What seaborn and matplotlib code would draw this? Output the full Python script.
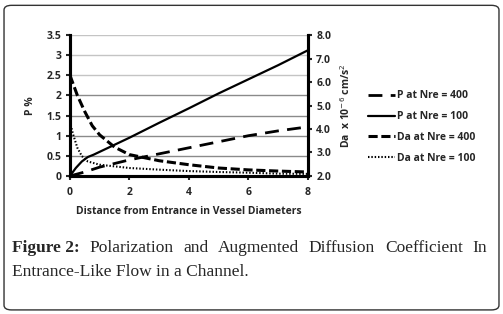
import matplotlib
matplotlib.use("Agg")
import matplotlib.pyplot as plt
import seaborn as sns
from matplotlib.patches import FancyBboxPatch

# -----------------------------
# data
# -----------------------------
x_p100 = [0, 0.1, 0.2, 0.4, 0.6, 0.8, 1, 2, 3, 4, 5, 6, 7, 8]
p_100 = [0, 0.1, 0.2, 0.36, 0.47, 0.53, 0.6, 0.95, 1.32, 1.68, 2.05, 2.4, 2.75, 3.12]

x_p400 = [0, 0.5, 1, 2, 3, 4, 5, 6, 7, 8]
p_400 = [0, 0.1, 0.22, 0.4, 0.55, 0.7, 0.85, 1.0, 1.12, 1.22]

x_da400 = [0, 0.25, 0.5, 0.75, 1, 1.5, 2, 3, 4, 5, 6, 7, 8]
da_400 = [6.29, 5.43, 4.74, 4.14, 3.75, 3.23, 2.91, 2.65, 2.48, 2.34, 2.26, 2.21, 2.17]

x_da100 = [0, 0.1, 0.25, 0.4, 0.6, 1, 2, 3, 4, 5, 6, 7, 8]
da_100 = [4.31, 3.8, 3.2, 2.85, 2.62, 2.48, 2.34, 2.27, 2.21, 2.17, 2.14, 2.1, 2.09]

x_ticks = [0, 2, 4, 6, 8]
left_ticks = [0, 0.5, 1, 1.5, 2, 2.5, 3, 3.5]
left_labels = ["0", "0.5", "1", "1.5", "2", "2.5", "3", "3.5"]
right_ticks = [2, 3, 4, 5, 6, 7, 8]
right_labels = ["2.0", "3.0", "4.0", "5.0", "6.0", "7.0", "8.0"]

caption_line1 = ["Polarization", "and", "Augmented", "Diffusion", "Coefficient", "In"]
caption_line2 = "Entrance-Like Flow in a Channel."

sns.set_style("white")
plt.rcParams["font.family"] = ["Open Sans", "DejaVu Sans"]

fig = plt.figure(figsize=(5.03, 3.14), dpi=100)
ax = fig.add_axes([0.139, 0.4395, 0.473, 0.449])
ax2 = ax.twinx()

# P on left axis
sns.lineplot(x=x_p400, y=p_400, ax=ax, color="black", lw=2.0,
             label="P at Nre = 400", legend=False)
ax.lines[-1].set_dashes([5, 3])
sns.lineplot(x=x_p100, y=p_100, ax=ax, color="black", lw=1.6,
             label="P at Nre = 100", legend=False)

# Da on right axis
sns.lineplot(x=x_da400, y=da_400, ax=ax2, color="black", lw=2.2,
             label="Da at Nre = 400", legend=False)
ax2.lines[-1].set_dashes([3, 1.2])
sns.lineplot(x=x_da100, y=da_100, ax=ax2, color="black", lw=1.5,
             label="Da at Nre = 100", legend=False)
ax2.lines[-1].set_dashes([0.7, 0.9])

ax.set_xlim(0, 8)
ax.set_ylim(0, 3.5)
ax2.set_ylim(2, 8)
ax.set_xticks(x_ticks)
ax.set_xticklabels([str(v) for v in x_ticks])
ax.set_yticks(left_ticks)
ax.set_yticklabels(left_labels)
ax2.set_yticks(right_ticks)
ax2.set_yticklabels(right_labels)

# gridlines: lower ones darker, top three lighter as in the original
for t in left_ticks[1:]:
    ax.axhline(t, color="#c4c4c4" if t >= 2.5 else "#8a8a8a", lw=1.0, zorder=0)

for a in (ax, ax2):
    a.spines["top"].set_visible(False)
    for s in ("left", "right", "bottom"):
        a.spines[s].set_linewidth(2.2)
        a.spines[s].set_color("black")
    a.tick_params(length=3, width=1.5, labelsize=7.5, pad=3, direction="out")
    for lab in a.get_xticklabels() + a.get_yticklabels():
        lab.set_fontweight("bold")
ax.tick_params(axis="y", left=True, right=False)
ax.tick_params(axis="x", bottom=True, pad=5)
ax2.tick_params(axis="y", right=True)

ax.set_xlabel("Distance from Entrance in Vessel Diameters", fontsize=7.5,
              fontweight="bold", labelpad=6)
ax.set_ylabel("P %", fontsize=7.5, fontweight="bold", labelpad=8)
ax2.set_ylabel("Da  x 10$^{-6}$ cm/s$^{2}$", fontsize=7.5, fontweight="bold", labelpad=6)

handles = ax.lines[:2] + ax2.lines[:2]
labels = [h.get_label() for h in handles]
fig.legend(handles, labels, loc="center left", bbox_to_anchor=(0.713, 0.595),
           frameon=False, handlelength=2.6, handletextpad=0.2,
           labelspacing=0.95, prop={"weight": "bold", "size": 7.5})

# caption, line one justified between the margins
cap_kw = dict(family="Liberation Serif", fontsize=12.5, va="baseline")
x_left, x_right = 0.024, 0.968
y1, y2 = 0.198, 0.12
fig.canvas.draw()
r = fig.canvas.get_renderer()
items = [fig.text(x_left, y1, "Figure 2:", fontweight="bold", **cap_kw)]
items += [fig.text(0, y1, w, **cap_kw) for w in caption_line1]
widths = [t.get_window_extent(r).width / fig.bbox.width for t in items]
gap = (x_right - x_left - sum(widths)) / (len(items) - 1)
xpos = x_left
for t, w in zip(items, widths):
    t.set_x(xpos)
    xpos += w + gap
fig.text(x_left, y2, caption_line2, **cap_kw)

# rounded frame round the figure
frame = FancyBboxPatch((0.008, 0.013), 0.984, 0.97, boxstyle="round,pad=0,rounding_size=0.015",
                       transform=fig.transFigure, fill=False, ec="#333333", lw=1.0)
fig.patches.append(frame)

fig.savefig("out.png", dpi=100)
